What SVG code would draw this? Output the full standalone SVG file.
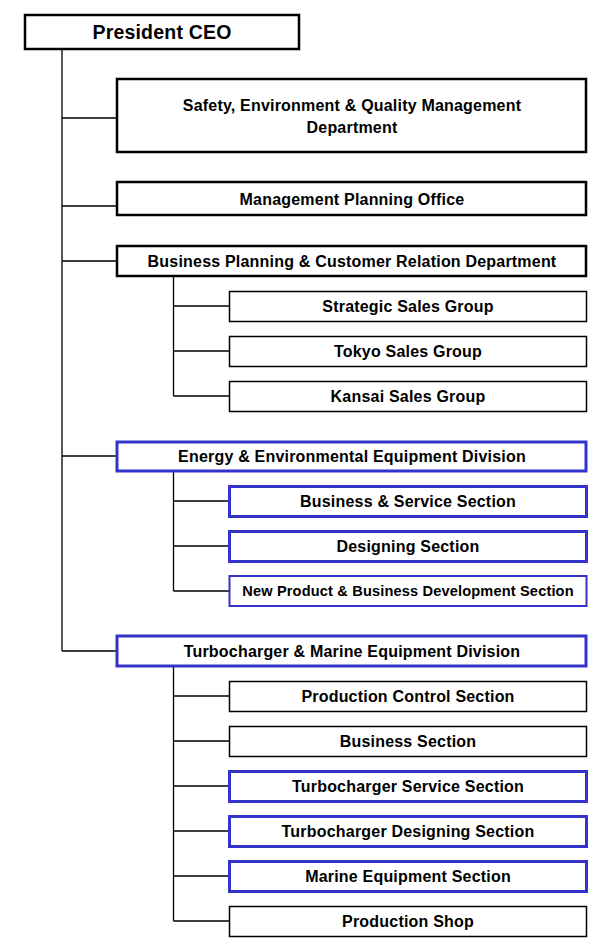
<svg xmlns="http://www.w3.org/2000/svg" width="590" height="952" viewBox="0 0 590 952">
<style>
text{font-family:"Liberation Sans",Arial,sans-serif;font-weight:bold;font-size:16px;letter-spacing:0.2px;fill:#000;text-anchor:middle}
.thick{fill:#fff;stroke:#000;stroke-width:2.5}
.thin{fill:#fff;stroke:#000;stroke-width:1.5}
.blue{fill:#fff;stroke:#3333cc;stroke-width:3}
.blue2{fill:#fff;stroke:#3333cc;stroke-width:2}
.conn{stroke:#000;stroke-width:1.3;fill:none}
</style>
<g id="connectors">
<path class="conn" d="M62 49V651M62 118H117M62 206H117M62 261H117M62 456H117M62 651H117"/>
<path class="conn" d="M173.5 276V396M173.5 306H229M173.5 351H229M173.5 396H229"/>
<path class="conn" d="M173.5 471V591M173.5 501H229M173.5 546H229M173.5 591H229"/>
<path class="conn" d="M173.5 666V921M173.5 696H229M173.5 741H229M173.5 786H229M173.5 831H229M173.5 876H229M173.5 921H229"/>
</g>
<g id="ceo"><rect class="thick" x="25" y="15" width="274" height="34"/><text x="162" y="39" style="font-size:19.5px">President CEO</text></g>
<g id="safety"><rect class="thick" x="117" y="79" width="469" height="73"/><text x="352" y="111">Safety, Environment &amp; Quality Management</text><text x="352" y="133">Department</text></g>
<g id="mpo"><rect class="thick" x="117" y="182" width="469" height="33"/><text x="352" y="205">Management Planning Office</text></g>
<g id="bpcr"><rect class="thick" x="117" y="246" width="469" height="30"/><text x="352" y="267">Business Planning &amp; Customer Relation Department</text></g>
<g id="strategic"><rect class="thin" x="229.5" y="291.5" width="357" height="30"/><text x="408" y="311.5">Strategic Sales Group</text></g>
<g id="tokyo"><rect class="thin" x="229.5" y="336.5" width="357" height="30"/><text x="408" y="356.5">Tokyo Sales Group</text></g>
<g id="kansai"><rect class="thin" x="229.5" y="381.5" width="357" height="30"/><text x="408" y="401.5">Kansai Sales Group</text></g>
<g id="energy"><rect class="blue" x="117" y="442" width="469" height="29"/><text x="352" y="461.5">Energy &amp; Environmental Equipment Division</text></g>
<g id="bss"><rect class="blue" x="229.5" y="486.5" width="357" height="30"/><text x="408" y="506.5">Business &amp; Service Section</text></g>
<g id="design"><rect class="blue" x="229.5" y="531.5" width="357" height="30"/><text x="408" y="551.5">Designing Section</text></g>
<g id="newprod"><rect class="blue2" x="229.5" y="576" width="357" height="30"/><text x="408" y="596" style="font-size:14.6px;letter-spacing:0.15px">New Product &amp; Business Development Section</text></g>
<g id="turbo"><rect class="blue" x="117" y="636" width="469" height="30"/><text x="352" y="656.5">Turbocharger &amp; Marine Equipment Division</text></g>
<g id="prodctrl"><rect class="thin" x="229.5" y="681.5" width="357" height="30"/><text x="408" y="701.5">Production Control Section</text></g>
<g id="business"><rect class="thin" x="229.5" y="726.5" width="357" height="30"/><text x="408" y="746.5">Business Section</text></g>
<g id="tservice"><rect class="blue" x="229.5" y="771.5" width="357" height="30"/><text x="408" y="791.5">Turbocharger Service Section</text></g>
<g id="tdesign"><rect class="blue" x="229.5" y="816.5" width="357" height="30"/><text x="408" y="836.5">Turbocharger Designing Section</text></g>
<g id="marine"><rect class="blue" x="229.5" y="861.5" width="357" height="30"/><text x="408" y="881.5">Marine Equipment Section</text></g>
<g id="prodshop"><rect class="thin" x="229.5" y="906.5" width="357" height="30"/><text x="408" y="926.5">Production Shop</text></g>
</svg>
